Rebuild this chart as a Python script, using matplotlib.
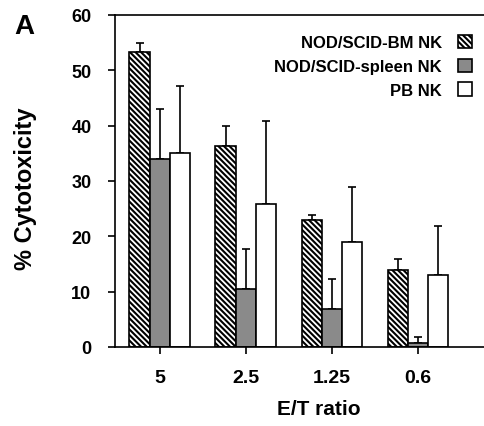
import matplotlib
matplotlib.use("Agg")
import matplotlib.pyplot as plt
import numpy as np

ratios = ["5", "2.5", "1.25", "0.6"]
series = ["NOD/SCID-BM NK", "NOD/SCID-spleen NK", "PB NK"]
bm = [53.3, 36.4, 23.0, 13.9]
bm_err = [1.6, 3.5, 0.9, 2.0]
spleen = [34.0, 10.4, 6.9, 0.8]
spleen_err = [9.0, 7.4, 5.4, 1.0]
pb = [35.0, 25.9, 18.9, 13.0]
pb_err = [12.1, 15.0, 10.0, 8.8]

plt.rcParams["font.family"] = ["Liberation Sans", "DejaVu Sans"]
plt.rcParams["font.weight"] = "bold"
plt.rcParams["hatch.linewidth"] = 1.5

fig = plt.figure(figsize=(4.85, 4.27), dpi=100)
ax = fig.add_axes([115 / 485, 1 - 348 / 427, 370 / 485, 332 / 427])

x = np.arange(len(ratios))
w = 0.235
styles = [dict(facecolor="white", hatch="\\\\\\\\\\\\"),
          dict(facecolor="#8a8a8a"),
          dict(facecolor="white")]
vals = [bm, spleen, pb]
errs = [bm_err, spleen_err, pb_err]
handles = []
for i, (v, e, st) in enumerate(zip(vals, errs, styles)):
    pos = x + (i - 1) * w
    b = ax.bar(pos, v, w, edgecolor="black", linewidth=1.2, label=series[i],
               zorder=2, **st)
    ax.errorbar(pos, v, yerr=[np.zeros(len(v)), e], fmt="none", ecolor="black",
                elinewidth=1.2, capsize=3, capthick=1.2, zorder=1)
    handles.append(b)

ax.set_xlim(-0.52, 3.78)
ax.set_ylim(0, 60)
ax.set_yticks(range(0, 61, 10))
ax.set_xticks(x)
ax.set_xticklabels(ratios)
ax.tick_params(axis="both", direction="out", length=5, width=1.2)
ax.tick_params(axis="y", labelsize=13, pad=12)
ax.tick_params(axis="x", labelsize=14, pad=11)
for s in ["left", "bottom", "top"]:
    ax.spines[s].set_linewidth(1.2)
ax.spines["right"].set_visible(False)

ax.set_ylabel("% Cytotoxicity", fontsize=17, fontweight="bold")
ax.yaxis.set_label_coords(-0.21, 0.48)
ax.set_xlabel("E/T ratio", fontsize=15, fontweight="bold")
ax.xaxis.set_label_coords(0.55, -0.157)

leg = ax.legend(handles, series, loc="upper right", markerfirst=False,
                frameon=False, fontsize=12, handlelength=0.84, handleheight=0.84,
                labelspacing=0.5, handletextpad=0.96, borderaxespad=0,
                borderpad=0, bbox_to_anchor=(0.965, 0.94))

fig.text(14 / 485, 1 - 34 / 427, "A", fontsize=20, fontweight="bold")

fig.savefig("out.png", dpi=100)
